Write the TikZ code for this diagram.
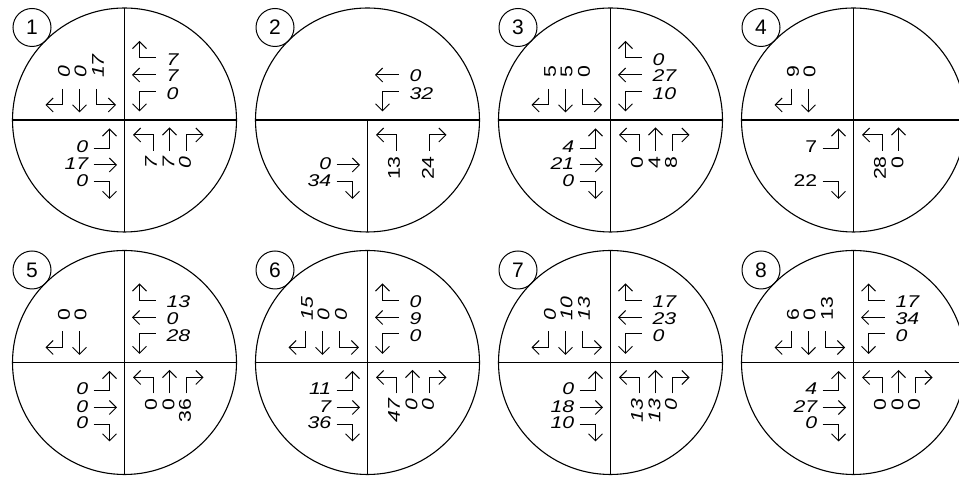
\documentclass[tikz,border=0pt]{standalone}
\usepackage{fontspec}
\setmainfont{Liberation Sans}
\newfontfamily\cadfont[FakeStretch=1.25]{Liberation Sans}
\usetikzlibrary{arrows.meta}
\tikzset{
  ring/.style={line width=1.1pt},
  mv/.style={line width=1pt,-{Straight Barb[length=7pt,width=14pt]}},
  lbl/.style={inner sep=0pt,font=\cadfont\fontsize{17}{19}\selectfont},
  tag/.style={circle,draw,line width=1pt,minimum size=38pt,inner sep=0pt,font=\fontsize{21}{22}\selectfont}
}
% #1 prefix, #2 rotation, #3 anchor, #4 text rotation, #5 font shape, #6 RT, #7 TH, #8 LT
\newcommand\appr[8]{%
 \begin{scope}[rotate=#2]
 \if\relax\detokenize{#6}\relax\else
  \draw[mv] (31,62) -- (15,62) -- (15,79);
  \node[lbl,anchor=#3,rotate=#4] (#1rt) at (36,60.5) {#5 #6};
 \fi
 \if\relax\detokenize{#7}\relax\else
  \draw[mv] (31,45) -- (7.5,45);
  \node[lbl,anchor=#3,rotate=#4] (#1th) at (36,44) {#5 #7};
 \fi
 \if\relax\detokenize{#8}\relax\else
  \draw[mv] (31,28.5) -- (15,28.5) -- (15,8.5);
  \node[lbl,anchor=#3,rotate=#4] (#1lt) at (36,26.5) {#5 #8};
 \fi
 \end{scope}}
\newcommand\fullcross{\draw[ring] (0,0) circle[radius=112];
 \draw[ring] (-112,0) -- (112,0) (0,112) -- (0,-112);}
\begin{document}
\begin{tikzpicture}[x=1pt,y=1pt]
\useasboundingbox (0,0) rectangle (959,478);
\clip (0,0) rectangle (959,478);
% ---------- 1 ----------
\begin{scope}[shift={(124.5,358)}]
 \fullcross
 \node[tag] (t1) at (-92.5,92.5) {1};
 \appr{a1ul}{90}{west}{90}{\itshape}{0}{0}{17}
 \appr{a1ur}{0}{west}{0}{\itshape}{7}{7}{0}
 \appr{a1ll}{180}{east}{0}{\itshape}{0}{17}{0}
 \appr{a1lr}{-90}{east}{90}{\itshape}{0}{7}{7}
\end{scope}
% ---------- 2 ----------
\begin{scope}[shift={(367.5,358)}]
 \draw[ring] (0,0) circle[radius=112];
 \draw[ring] (-112,0) -- (112,0) (0,0) -- (0,-112);
 \node[tag] (t2) at (-92.5,92.5) {2};
 \appr{a2ur}{0}{west}{0}{\itshape}{}{0}{32}
 \appr{a2ll}{180}{east}{0}{\itshape}{34}{0}{}
 \appr{a2lr}{-90}{east}{90}{\upshape}{24}{}{13}
\end{scope}
% ---------- 3 ----------
\begin{scope}[shift={(610.5,358)}]
 \fullcross
 \node[tag] (t3) at (-92.5,92.5) {3};
 \appr{a3ul}{90}{west}{90}{\upshape}{5}{5}{0}
 \appr{a3ur}{0}{west}{0}{\itshape}{0}{27}{10}
 \appr{a3ll}{180}{east}{0}{\itshape}{0}{21}{4}
 \appr{a3lr}{-90}{east}{90}{\upshape}{8}{4}{0}
\end{scope}
% ---------- 4 ----------
\begin{scope}[shift={(853.5,358)}]
 \fullcross
 \node[tag] (t4) at (-92.5,92.5) {4};
 \appr{a4ul}{90}{west}{90}{\upshape}{9}{0}{}
 \appr{a4ll}{180}{east}{0}{\upshape}{22}{}{7}
 \appr{a4lr}{-90}{east}{90}{\upshape}{}{0}{28}
\end{scope}
% ---------- 5 ----------
\begin{scope}[shift={(124.5,115.5)}]
 \fullcross
 \node[tag] (t5) at (-92.5,92.5) {5};
 \appr{a5ul}{90}{west}{90}{\upshape}{0}{0}{}
 \appr{a5ur}{0}{west}{0}{\itshape}{13}{0}{28}
 \appr{a5ll}{180}{east}{0}{\itshape}{0}{0}{0}
 \appr{a5lr}{-90}{east}{90}{\upshape}{36}{0}{0}
\end{scope}
% ---------- 6 ----------
\begin{scope}[shift={(367.5,115.5)}]
 \fullcross
 \node[tag] (t6) at (-92.5,92.5) {6};
 \appr{a6ul}{90}{west}{90}{\itshape}{15}{0}{0}
 \appr{a6ur}{0}{west}{0}{\itshape}{0}{9}{0}
 \appr{a6ll}{180}{east}{0}{\itshape}{36}{7}{11}
 \appr{a6lr}{-90}{east}{90}{\itshape}{0}{0}{47}
\end{scope}
% ---------- 7 ----------
\begin{scope}[shift={(610.5,115.5)}]
 \fullcross
 \node[tag] (t7) at (-92.5,92.5) {7};
 \appr{a7ul}{90}{west}{90}{\itshape}{0}{10}{13}
 \appr{a7ur}{0}{west}{0}{\itshape}{17}{23}{0}
 \appr{a7ll}{180}{east}{0}{\itshape}{10}{18}{0}
 \appr{a7lr}{-90}{east}{90}{\itshape}{0}{13}{13}
\end{scope}
% ---------- 8 ----------
\begin{scope}[shift={(853.5,115.5)}]
 \fullcross
 \node[tag] (t8) at (-92.5,92.5) {8};
 \appr{a8ul}{90}{west}{90}{\upshape}{6}{0}{13}
 \appr{a8ur}{0}{west}{0}{\itshape}{17}{34}{0}
 \appr{a8ll}{180}{east}{0}{\itshape}{0}{27}{4}
 \appr{a8lr}{-90}{east}{90}{\upshape}{0}{0}{0}
\end{scope}
\end{tikzpicture}
\end{document}
